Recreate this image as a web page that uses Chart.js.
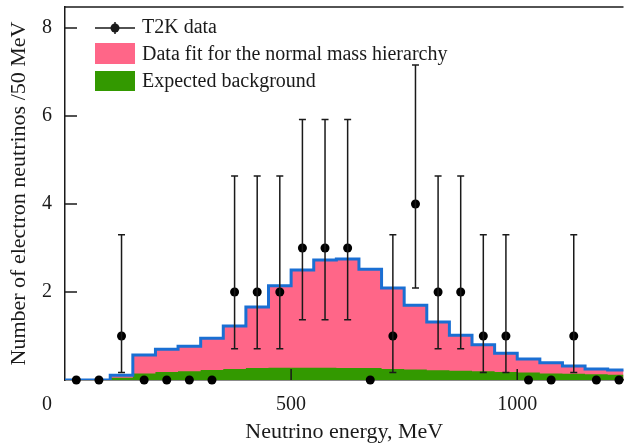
<!DOCTYPE html>
<html>
<head>
<meta charset="utf-8">
<script src="https://cdn.jsdelivr.net/npm/chart.js@4.4.0/dist/chart.umd.min.js"></script>
<style>
  html, body { margin: 0; padding: 0; background: #fff; }
  #wrap { width: 628px; height: 445px; }
</style>
</head>
<body>
<div id="wrap"><canvas id="myChart"></canvas></div>
<script>
// energy bins, 50 MeV wide
const binEdges = [0, 50, 100, 150, 200, 250, 300, 350, 400, 450, 500, 550, 600,
  650, 700, 750, 800, 850, 900, 950, 1000, 1050, 1100, 1150, 1200, 1250];
const binCenters = [25, 75, 125, 175, 225, 275, 325, 375, 425, 475, 525, 575, 625,
  675, 725, 775, 825, 875, 925, 975, 1025, 1075, 1125, 1175, 1225];

const dataCounts = [0, 0, 1, 0, 0, 0, 0, 2, 2, 2, 3, 3, 3, 0, 1, 4, 2, 2, 1, 1, 0, 0, 1, 0, 0];
// error bar ends by event count
const errLow = [0, 0.17, 0.71, 1.37, 2.09];
const errHigh = [0, 3.30, 4.64, 5.92, 7.16];

const fitValues = [0, 0, 0.11, 0.57, 0.70, 0.77, 0.95, 1.23, 1.66, 2.14, 2.50, 2.73, 2.75,
  2.52, 2.09, 1.70, 1.32, 1.02, 0.80, 0.61, 0.48, 0.39, 0.32, 0.25, 0.23];
const bgValues = [0, 0, 0.05, 0.15, 0.18, 0.20, 0.23, 0.25, 0.27, 0.28, 0.28, 0.28, 0.27,
  0.27, 0.25, 0.24, 0.22, 0.21, 0.20, 0.18, 0.17, 0.15, 0.14, 0.13, 0.12];

const xTicks = [0, 500, 1000];
const yTicks = [2, 4, 6, 8];

const PINK = "#FF6688";
const GREEN = "#339900";
const BLUE = "#1A6FD3";
const INK = "#1a1a1a";
const FONT = "Liberation Serif";

function stepPoints(vals) {
  const pts = vals.map((v, i) => ({ x: binEdges[i], y: v }));
  pts.push({ x: binEdges[vals.length], y: vals[vals.length - 1] });
  return pts;
}

const extras = {
  id: "extras",
  afterDatasetsDraw(chart) {
    const { ctx, chartArea, scales } = chart;
    const xs = scales.x, ys = scales.y;
    ctx.save();
    ctx.strokeStyle = INK;
    ctx.lineWidth = 1.5;

    // error bars
    binCenters.forEach((c, i) => {
      const n = dataCounts[i];
      if (!n) return;
      const px = xs.getPixelForValue(c);
      const y1 = ys.getPixelForValue(errLow[n]);
      const y2 = ys.getPixelForValue(errHigh[n]);
      ctx.beginPath();
      ctx.moveTo(px, y1); ctx.lineTo(px, y2);
      ctx.moveTo(px - 3.5, y1); ctx.lineTo(px + 3.5, y1);
      ctx.moveTo(px - 3.5, y2); ctx.lineTo(px + 3.5, y2);
      ctx.stroke();
    });

    // top frame line
    ctx.beginPath();
    ctx.moveTo(chartArea.left, chartArea.top);
    ctx.lineTo(chartArea.right, chartArea.top);
    ctx.stroke();

    // inward ticks
    ctx.beginPath();
    yTicks.forEach(v => {
      const py = ys.getPixelForValue(v);
      ctx.moveTo(chartArea.left, py); ctx.lineTo(chartArea.left + 12, py);
    });
    xTicks.forEach(v => {
      if (v === 0) return;
      const px = xs.getPixelForValue(v);
      ctx.moveTo(px, chartArea.bottom); ctx.lineTo(px, chartArea.bottom - 11);
    });
    ctx.stroke();

    // "0" label at the corner
    ctx.fillStyle = INK;
    ctx.font = "20px '" + FONT + "'";
    ctx.textAlign = "center";
    ctx.textBaseline = "middle";
    ctx.fillText("0", xs.getPixelForValue(0) - 18, 405);

    // legend
    const lx = chartArea.left + 30;
    ctx.textAlign = "left";
    ctx.beginPath();
    ctx.moveTo(lx, 28); ctx.lineTo(lx + 40, 28);
    ctx.moveTo(lx + 20, 22); ctx.lineTo(lx + 20, 34);
    ctx.stroke();
    ctx.beginPath();
    ctx.arc(lx + 20, 28, 4.5, 0, Math.PI * 2);
    ctx.fill();
    ctx.fillText("T2K data", lx + 47, 28);
    ctx.fillStyle = PINK;
    ctx.fillRect(lx, 43, 40, 21);
    ctx.fillStyle = GREEN;
    ctx.fillRect(lx, 71, 40, 20);
    ctx.fillStyle = INK;
    ctx.fillText("Data fit for the normal mass hierarchy", lx + 47, 55);
    ctx.fillText("Expected background", lx + 47, 82);
    ctx.restore();
  }
};

const config = {
  type: "line",
  data: {
    datasets: [
      {
        type: "scatter",
        data: binCenters.map((c, i) => ({ x: c, y: dataCounts[i] })),
        pointRadius: 4.5,
        pointBackgroundColor: "#000",
        pointBorderWidth: 0,
        showLine: false,
        clip: false,
      },
      {
        data: stepPoints(fitValues),
        stepped: "before",
        borderColor: BLUE,
        borderWidth: 3,
        pointRadius: 0,
        fill: false,
      },
      {
        data: stepPoints(bgValues),
        stepped: "before",
        borderWidth: 0,
        pointRadius: 0,
        backgroundColor: GREEN,
        fill: "origin",
      },
      {
        data: stepPoints(fitValues),
        stepped: "before",
        borderWidth: 0,
        pointRadius: 0,
        backgroundColor: PINK,
        fill: "origin",
      },
    ],
  },
  options: {
    responsive: true,
    maintainAspectRatio: false,
    animation: false,
    layout: { padding: { top: 7, right: 0, left: 0, bottom: 0 } },
    plugins: {
      legend: { display: false },
      tooltip: { enabled: false },
    },
    scales: {
      x: {
        type: "linear",
        min: 0,
        max: 1235,
        afterBuildTicks: (scale) => { scale.ticks = xTicks.map(v => ({ value: v })); },
        afterFit: (scale) => {
          scale.height = 65;
          scale.paddingLeft = 0;
          scale.paddingRight = 0;
        },
        grid: { display: false, drawTicks: false },
        border: { display: true, color: INK, width: 1.5 },
        ticks: {
          callback: (v) => (v === 0 ? "" : v),
          font: { family: FONT, size: 20 },
          color: INK,
          padding: 13,
          maxRotation: 0,
        },
        title: {
          display: true,
          text: "Neutrino energy, MeV",
          font: { family: FONT, size: 22 },
          color: INK,
          padding: { top: 0, bottom: 0 },
        },
      },
      y: {
        min: 0,
        max: 8.48,
        afterBuildTicks: (scale) => { scale.ticks = yTicks.map(v => ({ value: v })); },
        afterFit: (scale) => {
          scale.width = 65;
          scale.paddingTop = 0;
          scale.paddingBottom = 0;
        },
        grid: { display: false, drawTicks: false },
        border: { display: true, color: INK, width: 1.5 },
        ticks: {
          font: { family: FONT, size: 20 },
          color: INK,
          padding: 13,
        },
        title: {
          display: true,
          text: "Number of electron neutrinos /50 MeV",
          font: { family: FONT, size: 22 },
          color: INK,
          padding: { top: 6, bottom: 0 },
        },
      },
    },
  },
  plugins: [extras],
};

const myChart = new Chart(document.getElementById("myChart"), config);
</script>
</body>
</html>
